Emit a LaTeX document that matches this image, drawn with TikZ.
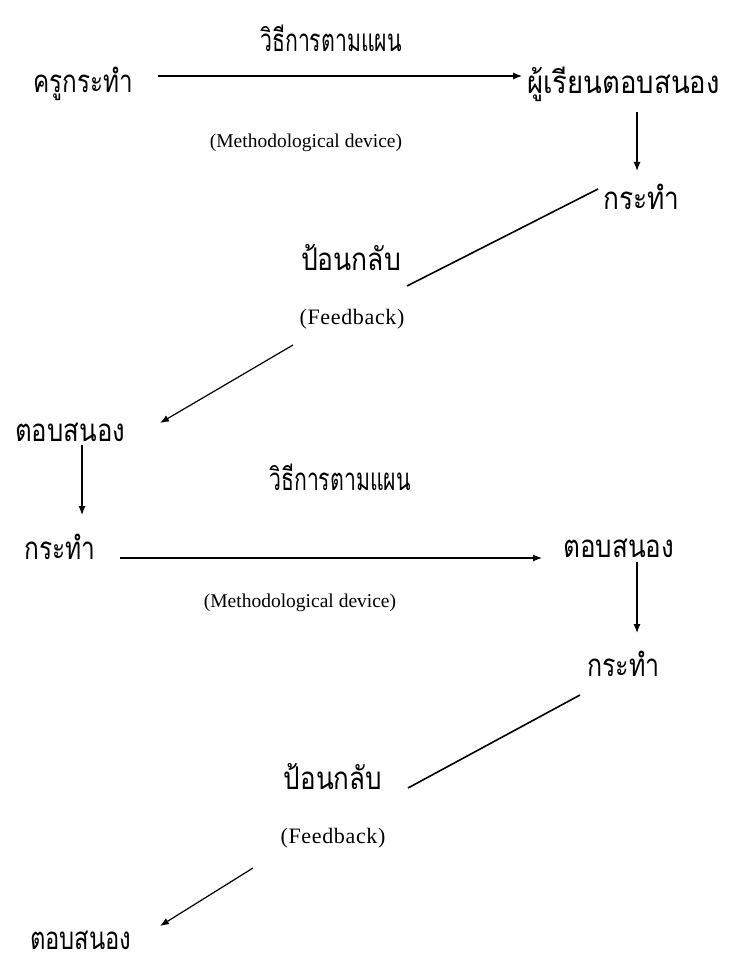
\documentclass[tikz,border=0pt]{standalone}
\usepackage{fontspec}
\setmainfont{Liberation Serif}
\newfontfamily\thaifont[Script=Thai]{Loma}
\usetikzlibrary{arrows.meta}
\newcommand\thx[2]{\scalebox{#1}[1.25]{#2}}
\begin{document}
\begin{tikzpicture}[x=1pt,y=-1pt,
  th/.style={font=\thaifont\fontsize{25}{28}\selectfont, inner sep=0pt},
  en/.style={font=\fontsize{19.5}{22}\selectfont, inner sep=0pt},
  fb/.style={font=\fontsize{22}{25}\selectfont\addfontfeature{LetterSpace=3}, inner sep=0pt},
  arr/.style={line width=1.2pt, -{Latex[length=9pt,width=7pt]}},
  ln/.style={line width=1.6pt}]
\useasboundingbox (0,0) rectangle (733,965);
% --- first cycle
\node[th] (t1) at (331,38) {\thx{0.85}{วิธีการตามแผน}};
\node[th, anchor=west] (a) at (33,84) {\thx{0.97}{ครูกระทำ}};
\node[th, anchor=west] (b) at (527,84) {\thx{1.1}{ผู้เรียนตอบสนอง}};
\node[en] (m1) at (306,143) {(Methodological device)};
\node[th, anchor=west] (c) at (603,197) {\thx{1.05}{กระทำ}};
\node[th] (p1) at (351,258) {\thx{1.06}{ป้อนกลับ}};
\node[fb] (f1) at (352,319) {(Feedback)};
\node[th, anchor=west] (d) at (15,432) {\thx{1.03}{ตอบสนอง}};
\coordinate (a1s) at (158,76);
\coordinate (a1e) at (522,76);
\draw[arr] (a1s) -- (a1e);
\coordinate (v1s) at (637,112);
\coordinate (v1e) at (637,171);
\draw[arr] (v1s) -- (v1e);
\coordinate (l1s) at (598,189);
\coordinate (l1e) at (407,286);
\draw[ln] (l1s) -- (l1e);
\coordinate (d1s) at (293,345);
\coordinate (d1e) at (160,423);
\draw[arr] (d1s) -- (d1e);
% --- second cycle
\coordinate (v2s) at (82,445);
\coordinate (v2e) at (82,515);
\draw[arr] (v2s) -- (v2e);
\node[th] (t2) at (340,477) {\thx{0.85}{วิธีการตามแผน}};
\node[th, anchor=west] (e) at (24,547) {\thx{0.98}{กระทำ}};
\node[th, anchor=west] (f) at (563,548) {\thx{1.04}{ตอบสนอง}};
\coordinate (a2s) at (120,558);
\coordinate (a2e) at (542,558);
\draw[arr] (a2s) -- (a2e);
\node[en] (m2) at (300,603) {(Methodological device)};
\coordinate (v3s) at (637,562);
\coordinate (v3e) at (637,633);
\draw[arr] (v3s) -- (v3e);
\node[th, anchor=west] (g) at (587,664) {\thx{1.0}{กระทำ}};
\coordinate (l2s) at (580,695);
\coordinate (l2e) at (408,788);
\draw[ln] (l2s) -- (l2e);
\node[th] (p2) at (333,777) {\thx{1.04}{ป้อนกลับ}};
\node[fb] (f2) at (333,838) {(Feedback)};
\coordinate (d2s) at (253,868);
\coordinate (d2e) at (160,926);
\draw[arr] (d2s) -- (d2e);
\node[th, anchor=west] (h) at (30,940) {\thx{0.95}{ตอบสนอง}};
\end{tikzpicture}
\end{document}
